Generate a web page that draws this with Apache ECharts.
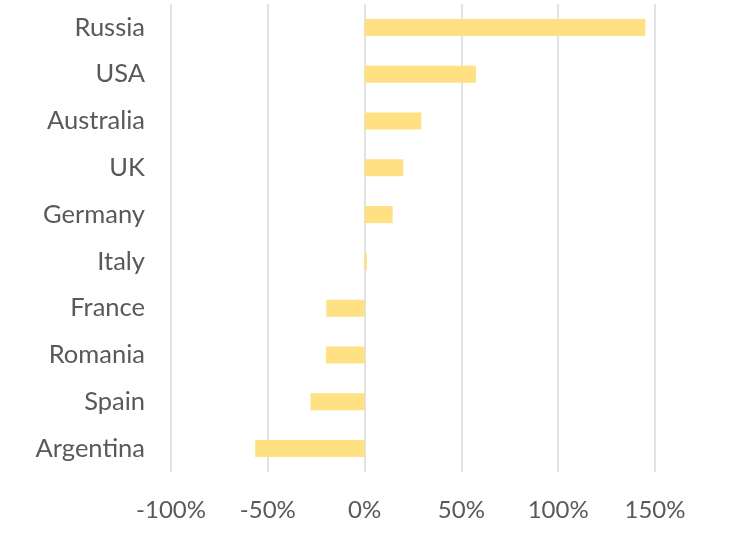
<!DOCTYPE html>
<html>
<head>
<meta charset="utf-8">
<script src="https://cdn.jsdelivr.net/npm/echarts@6/dist/echarts.min.js"></script>
<style>html,body{margin:0;padding:0;background:#fff}#c{width:732px;height:550px}</style>
</head>
<body>
<div id="c"></div>
<script>
const categories = ['Russia','USA','Australia','UK','Germany','Italy','France','Romania','Spain','Argentina'];
const values = [145, 57.5, 29.3, 20, 14.5, 1.2, -19.8, -20, -27.9, -56.5];
const xTicks = {min: -100, max: 150, interval: 50};

const chart = echarts.init(document.getElementById('c'), null, {renderer: 'canvas'});
chart.setOption({
  animation: false,
  backgroundColor: '#ffffff',
  grid: {left: 171, right: 77, top: 4, bottom: 78, containLabel: false},
  xAxis: {
    type: 'value',
    min: xTicks.min, max: xTicks.max, interval: xTicks.interval,
    axisLine: {show: false},
    axisTick: {show: false},
    splitLine: {show: true, lineStyle: {color: '#d9d9d9', width: 1.5}},
    axisLabel: {formatter: '{value}%', color: '#595959', fontSize: 24, fontFamily: 'Lato', margin: 26}
  },
  yAxis: {
    type: 'category',
    data: categories,
    inverse: true,
    axisLine: {show: false},
    axisTick: {show: false},
    splitLine: {show: false},
    axisLabel: {color: '#595959', fontSize: 25.5, fontFamily: 'Lato', margin: 26}
  },
  series: [{
    type: 'bar',
    data: values,
    barWidth: 17,
    itemStyle: {color: '#FFE083'}
  }]
});
</script>
</body>
</html>
